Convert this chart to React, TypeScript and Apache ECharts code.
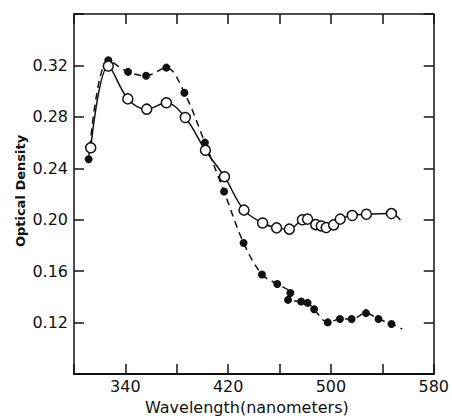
import React, { useEffect, useRef } from "react";
import * as echarts from "echarts";

const xTickLabels = [340, 420, 500, 580];
const yTickLabels = [0.12, 0.16, 0.2, 0.24, 0.28, 0.32];

// Open circles (solid line); last point is the curve's end, no marker
const openX = [313, 326.7, 341.9, 356.6, 371.9, 386.6, 402.3, 417.1, 432.3, 446.8, 457.7, 467.6, 477.8, 481.8, 488.2, 492.5, 496.3, 502.1, 507.2, 516.6, 527.6, 547.1, 554];
const openY = [0.256, 0.3195, 0.294, 0.286, 0.291, 0.2795, 0.254, 0.2335, 0.2075, 0.1975, 0.1937, 0.1927, 0.2, 0.2005, 0.1962, 0.1952, 0.1939, 0.196, 0.2005, 0.2033, 0.2043, 0.2048, 0.1998];

// Filled circles (dashed line); last point is the curve's end, no marker
const filledX = [311.4, 326.7, 342.1, 356.1, 371.9, 385.9, 401.9, 416.8, 432, 446.3, 458.2, 468.4, 466.6, 476.8, 481.8, 486.9, 497.5, 507, 516.1, 527.3, 537, 547.1, 555.5];
const filledY = [0.247, 0.3241, 0.315, 0.312, 0.3183, 0.2987, 0.26, 0.222, 0.182, 0.1575, 0.15, 0.143, 0.1377, 0.1365, 0.1354, 0.1304, 0.1202, 0.1228, 0.1228, 0.1274, 0.1228, 0.119, 0.115];

const FONT = "DejaVu Sans";
const INK = "#111";

function build(xs: number[], ys: number[]) {
  return xs.map((x, i) =>
    i === xs.length - 1 ? { value: [x, ys[i]], symbol: "none" } : { value: [x, ys[i]] }
  );
}

export default function App() {
  const ref = useRef<HTMLDivElement>(null);
  useEffect(() => {
    if (!ref.current) return;
    const chart = echarts.init(ref.current, undefined, { renderer: "svg" });
    const axisCommon = {
      axisLine: { show: true, lineStyle: { color: INK, width: 1.5 } },
      axisTick: { show: true, inside: true, length: 10, lineStyle: { color: INK, width: 1.5 } },
      splitLine: { show: false },
    };
    chart.setOption({
      animation: false,
      backgroundColor: "#fff",
      grid: { left: 74, right: 8, top: 14, bottom: 37 },
      xAxis: [
        {
          type: "value",
          min: 300,
          max: 580,
          interval: 40,
          position: "bottom",
          ...axisCommon,
          axisLine: { show: true, lineStyle: { color: INK, width: 2 } },
          axisLabel: {
            margin: 4,
            color: INK,
            fontFamily: FONT,
            fontSize: 16,
            formatter: (v: number) => (xTickLabels.includes(v) ? String(v) : ""),
          },
          name: "Wavelength(nanometers)",
          nameLocation: "middle",
          nameGap: 20,
          nameTextStyle: { color: INK, fontFamily: FONT, fontSize: 16, padding: [0, 14, 0, 0] },
        },
        {
          type: "value",
          min: 300,
          max: 580,
          interval: 40,
          position: "top",
          ...axisCommon,
          axisLabel: { show: false },
        },
      ],
      yAxis: [
        {
          type: "value",
          min: 0.08,
          max: 0.36,
          interval: 0.04,
          position: "left",
          ...axisCommon,
          axisLabel: {
            margin: 6,
            color: INK,
            fontFamily: FONT,
            fontSize: 16,
            formatter: (v: number) => {
              const r = Math.round(v * 100) / 100;
              return yTickLabels.some((t) => Math.abs(t - r) < 1e-6) ? r.toFixed(2) : "";
            },
          },
        },
        {
          type: "value",
          min: 0.08,
          max: 0.36,
          interval: 0.04,
          position: "right",
          ...axisCommon,
          axisLabel: { show: false },
        },
      ],
      graphic: [
        {
          type: "text",
          x: 20,
          y: 191,
          rotation: Math.PI / 2,
          style: {
            text: "Optical Density",
            fill: INK,
            font: `bold 13px "${FONT}"`,
            align: "center",
            verticalAlign: "middle",
          },
        },
      ],
      series: [
        {
          type: "line",
          data: build(filledX, filledY),
          smooth: 0.35,
          symbol: "circle",
          symbolSize: 8,
          itemStyle: { color: INK, borderColor: INK, borderWidth: 0 },
          lineStyle: { color: INK, width: 1.5, type: [7, 5] },
          z: 2,
        },
        {
          type: "line",
          data: build(openX, openY),
          smooth: 0.35,
          symbol: "circle",
          symbolSize: 10,
          showAllSymbol: true,
          itemStyle: { color: "#fff", borderColor: INK, borderWidth: 1.5 },
          lineStyle: { color: INK, width: 1.5 },
          z: 3,
        },
      ],
    });
    return () => chart.dispose();
  }, []);
  return (
    <div
      ref={ref}
      style={{ position: "fixed", left: 0, top: 0, width: 452, height: 420 }}
    />
  );
}
